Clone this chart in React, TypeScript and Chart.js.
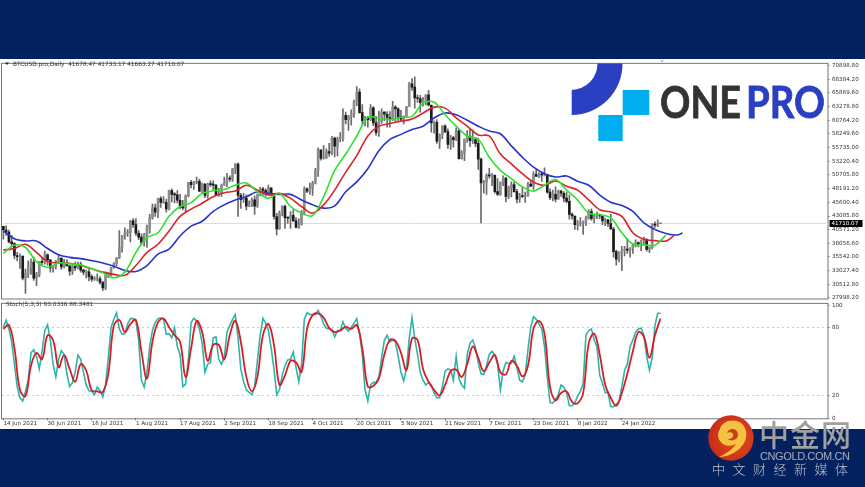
import React, { useEffect, useRef } from "react";
import { Chart, registerables } from "chart.js";

Chart.register(...registerables);

const closes = [
  40500, 40100, 38300, 38000, 35800, 35600, 35700, 31600, 32500, 33700, 34600, 31600, 32200, 34700, 34500, 35900, 35000,
  33500, 33800, 34700, 35300, 33700, 34200, 33900, 32900, 33800, 33500, 34200, 33100, 32700, 32800, 31900, 31400, 31500, 31500, 30800, 29800, 32100, 32300, 33600, 34300, 35400, 37300, 39500, 40000, 40000, 42200, 41500,
  39900, 39200, 38200, 39700, 40900, 42800, 44600, 43800, 46300, 45600, 45600, 44400, 47800, 47100, 47000, 46000, 44700, 44600, 46800, 49300, 48900, 49300, 49500, 47700, 49000, 46900, 49000, 48900, 48800, 47000, 47200,
  48800, 49300, 50000, 49900, 51800, 52700, 46900, 46100, 46400, 44900, 45200, 46100, 44900, 47100, 48100, 47800, 47300, 48300, 47300, 43000, 40700, 43600, 44900, 42800, 42700, 43200, 42200, 41000, 41500, 43800,
  48100, 47700, 48200, 49200, 51500, 55300, 53800, 53900, 55000, 54700, 57500, 56000, 57400, 57400, 61700, 60900, 61500, 62000, 64300, 66000, 62200, 60700, 61300, 60900, 63100, 60300, 58500, 60600, 62300, 61900, 61300,
  60900, 63200, 62900, 61400, 61000, 61500, 63300, 67500, 66900, 64900, 64800, 64100, 64400, 65500, 63600, 60300, 60400, 56900, 58100, 59700, 58700, 56300, 57600, 57200, 58900, 53700, 54700, 57300, 57800, 57000,
  57200, 56500, 53600, 49200, 49400, 50600, 50500, 50600, 47600, 47100, 49300, 50100, 46700, 48300, 48900, 47600, 46200, 46800, 46700, 46900, 49000, 48600, 50800, 50400, 50800, 50700, 50700, 47500, 46500, 47100, 46200,
  47700, 47300, 46400, 45800, 43400, 43100, 41500, 41700, 41800, 41800, 42700, 43900, 42600, 43100, 43200, 43100, 42200, 42400, 41700, 40700, 36500, 35100, 36300, 36700, 36900, 36800, 37200, 37700, 38200, 37900, 38500,
  38700, 36900, 37300, 41600, 41400, 41678, 41710.07,
];
const highs = [
  41000, 41300, 40500, 39500, 38200, 36400, 36100, 35700, 33300, 34800, 35200, 35500, 32700, 34700, 35300, 36600, 36100,
  35000, 33900, 34900, 35900, 35300, 35100, 35000, 33900, 34100, 34600, 34600, 34600, 33300, 33100, 33200, 32200, 31900, 32400, 31900, 31000, 32800, 32600, 33600, 34500, 35400, 40400, 39500, 40900, 40600, 42300, 42600,
  42600, 40400, 39800, 39900, 41400, 43400, 45300, 45300, 46400, 46700, 46700, 46200, 47900, 48100, 47400, 47800, 47100, 46000, 47000, 49300, 49700, 49500, 50300, 49900, 49200, 49100, 49200, 49600, 49600, 48900, 48200,
  49000, 50300, 51000, 50500, 51900, 52800, 52900, 47300, 47300, 47000, 45900, 46400, 46800, 47200, 48400, 48400, 48100, 48800, 48300, 47300, 43600, 44000, 45000, 45100, 42900, 43900, 44300, 42800, 42600, 44100,
  48500, 48300, 49200, 49500, 51900, 55700, 55300, 56100, 55500, 56500, 57800, 57700, 57700, 58500, 62900, 62300, 61700, 62700, 64500, 67000, 66600, 63700, 61500, 61500, 63700, 63300, 61500, 62500, 62900, 62400, 62400,
  62400, 64300, 63500, 63100, 62600, 61600, 63300, 67800, 68500, 68800, 65500, 65400, 65000, 65500, 66300, 63500, 60700, 60900, 58300, 59800, 60000, 59200, 58000, 57800, 59400, 59100, 55200, 57300, 58900, 59100,
  59000, 57300, 57500, 53800, 49700, 50900, 51900, 51000, 50700, 50000, 49400, 50500, 50200, 48600, 49400, 49300, 48000, 47300, 48300, 47500, 49300, 49500, 51300, 51800, 51100, 51200, 52000, 50700, 48100, 47900, 48500,
  47900, 47900, 47600, 47500, 47000, 43700, 43100, 42300, 42800, 42200, 43100, 44300, 44400, 43400, 43800, 43500, 43200, 42700, 42500, 43400, 41000, 36800, 36500, 37500, 37500, 38900, 37200, 38000, 38700, 38300, 38700,
  39200, 38900, 37400, 41700, 42000, 42400, 41733.17,
];
const lows = [
  38800, 39500, 38100, 37400, 35200, 34800, 33400, 31300, 28800, 31700, 32300, 31200, 30200, 31900, 33900, 34200, 34000,
  32700, 32700, 33300, 34500, 33200, 33500, 33800, 32100, 32300, 33000, 33300, 32700, 32200, 31600, 31100, 31000, 31200, 31100, 30500, 29300, 29500, 31700, 32000, 33400, 33900, 35200, 36400, 38800, 39300, 38300, 41000,
  39500, 38700, 37700, 37500, 37300, 39900, 42500, 43000, 42800, 44700, 45400, 43800, 44200, 45700, 45500, 45500, 44400, 44200, 43900, 46600, 48300, 48000, 49000, 47600, 47200, 46500, 46400, 48500, 48000, 46900, 46700,
  46700, 48700, 48500, 49500, 49500, 50900, 43000, 44500, 45600, 44200, 44800, 44800, 43400, 44700, 46800, 47000, 46800, 47100, 46900, 42500, 39600, 40600, 43100, 40800, 41700, 40800, 42100, 40900, 40800, 41400,
  43300, 47400, 47100, 46900, 49000, 50400, 53400, 53600, 53700, 54100, 54400, 54000, 54200, 56800, 56900, 60100, 58900, 59900, 61300, 63500, 62100, 60000, 59700, 59500, 60700, 59800, 58000, 57800, 60200, 60700, 59500,
  59500, 60700, 60400, 60700, 60700, 60100, 61400, 63300, 66300, 63000, 64100, 62300, 63400, 63600, 63400, 58600, 58400, 56500, 55600, 57400, 58500, 55600, 55400, 55800, 57000, 53600, 53600, 53300, 56700, 55900,
  56500, 55900, 51700, 41800, 47300, 47100, 50100, 48700, 47300, 46900, 46900, 48700, 45700, 46300, 46600, 47500, 45500, 45600, 46500, 45600, 46700, 48500, 48000, 50400, 50200, 49500, 50500, 47300, 46100, 45900, 45700,
  46200, 46700, 45700, 45500, 42500, 42500, 40600, 40500, 41200, 39700, 41300, 42500, 42300, 41800, 42600, 42600, 41500, 41300, 41100, 40600, 35500, 34000, 34600, 33000, 35700, 36200, 35500, 36200, 37400, 37400, 36700,
  38000, 36600, 36300, 37000, 41000, 41100, 41663.27,
];
const firstOpen = 41200;
const lastPrice = 41710.07;

const lineDays = [0,4,8,12,16,20,24,28,32,36,40,44,48,52,56,60,64,68,72,76,80,84,88,92,96,100,104,108,112,116,120,124,128,132,136,140,144,148,152,156,160,164,168,172,176,180,184,188,192,196,200,204,208,212,216,220,224,228,232,236,240];
const greenLine = [36181,37696,37272,34666,33636,34423,34242,34060,33333,32606,31697,32727,36363,39090,39999,43029,44847,45574,47271,47756,47998,48786,49210,47574,46362,47271,44847,43635,43150,46665,51513,54543,57876,61330,61209,60906,61330,61512,63936,64118,61815,59694,57876,57270,53937,51513,49998,48483,47695,48786,49816,47877,46059,43635,43332,42726,39999,37878,37757,37696,39575];
const redLine = [36787,37090,37878,36363,34666,34423,34363,33939,33333,32727,32303,32121,33939,36363,37878,40302,43029,44362,45453,46665,47392,47695,48786,47877,46968,47271,46362,44847,43635,45150,47877,51210,54240,57876,59694,60179,60603,61027,62118,63209,63027,61209,59694,58058,57876,54543,52725,50907,49392,48786,49574,48604,47877,46059,44241,43817,43029,39999,38787,38545,38484];
const redTailDay = 243;
const redTailValue = 39514;
const blueLine = [40302,38908,38484,38484,37090,35939,35454,35212,34848,34423,33818,33030,32848,33939,36060,36969,39393,41211,42120,43938,45150,46059,46665,47574,47271,47089,47089,46059,45150,44544,44968,47574,49392,51816,55149,57270,58179,59088,59694,61209,62118,61815,60785,59694,58785,58300,56058,53937,52119,50907,50301,50483,49513,48786,46968,45635,45029,43938,41817,40605,39878];
const blueTailDays = [244, 246];
const blueTailValues = [39575, 39938];

const stochK = [
  80.5,86.8,79.1,67.7,47.8,27.9,18,15.1,23.7,33.6,57.8,60.6,54.9,43.6,59.2,77.7,82.8,69.2,47.8,36.5,
  52.1,59.8,56.4,39.3,27.9,31.4,40.7,55.8,52.1,40.7,29.4,24.2,23.7,20.8,27.4,24.5,18.8,29.4,53.5,80.5,
  87.6,93.4,79.1,74.3,74.9,83.4,88.2,88.2,86.2,69.2,33.6,27.4,40.7,63.5,77.7,84.8,88.2,88.8,88.2,74.3,
  74.9,71.2,80,63.5,56.4,27.9,30.2,52.1,84.8,88.5,86.2,79.1,66.3,40.7,47.8,49.3,71.2,72,52.1,47.8,
  53.5,76.3,82,87.6,91.9,70.6,43.6,32.2,25.1,22.8,20.8,27.9,50.7,73.4,88.5,84.2,77.7,62.1,43.6,20.8,
  25.1,37.9,46.4,51.5,52.1,58.6,45,32.2,47.8,87.6,93.4,91.9,91.9,91.9,95.6,90.5,83.4,79.7,79.1,78.5,
  72,77.7,77.7,85.4,79.7,77.1,80.5,84.2,88.2,74.9,56.4,25.1,15.1,29.4,31.6,31.4,36.5,53.5,69.2,73.4,
  67.7,69.2,67.7,54.9,40.7,33,43.6,70.6,89.1,70.6,56.4,40.7,33.6,29.4,31.4,29.4,22.3,18,18,27.9,
  41.6,43.6,42.7,33.6,54.9,35,29.4,26.5,56.4,66.3,69.2,62.1,49.3,39.3,38.7,46.4,56.4,59.2,55.8,47.8,
  25.1,41.6,49.3,48.4,48.4,54.9,45,33.6,32.2,37.9,60.6,80.5,89.9,87.6,83.4,79.1,63.5,36.5,13.7,13.2,
  16.6,20.8,29.4,27.4,22.3,10.9,10.9,13.7,19.4,23.7,30.8,73.4,77.7,79.1,69.2,63.5,37.9,30.8,22.3,22.8,
  10,10,12.3,15.1,27.9,42.2,47.8,63.5,69.2,76.3,79.1,79.7,73.4,54.9,42.7,53.5,82,93,93.03,
];
const stochDEveryOtherDay = [
  79.1,82.5,62,25.1,19.4,46.4,57.8,52.1,73.4,69.2,45,55.8,43.6,32.2,47.8,42.2,24.5,23.7,23.1,39.3,
  82,87,76.3,83.4,87,59.2,35,67.7,84.8,88.2,80.5,73.4,67.7,36.5,62,86.2,76.3,50.7,64.9,64.9,
  52.1,73.4,86.2,67.7,36.5,23.7,36.5,73.4,83.4,64.9,29.4,37.9,50.7,49.3,40.7,79.1,91.3,92.8,89.1,80,
  76.3,77.7,80.8,79.1,82.5,62,27.9,28.5,35,56.4,69.2,68.6,57.8,42.7,70.6,69.2,43.6,32.2,25.1,20,
  29.4,41.6,43,36.5,47.8,63.5,53.5,41.6,49.3,55.8,40.7,38.7,50.7,46.4,37,46.4,79.1,86.2,74.9,27.9,
  15.7,22.3,23.7,14.3,13.2,22.3,66.3,74.9,56.4,29.4,18,10.9,22.3,39.3,59.2,76.3,72,53.5,73.4,88.35,
];

const priceTicks = [70898.8,68384.2,65869.6,63278.8,60764.2,58249.6,55735,53220.4,50705.8,48191.2,45600.4,43085.8,40571.2,38056.6,35542,33027.4,30512.8,27998.2];
const stochTicks = [100, 80, 20, 0];
const dateTicks = ["14 Jun 2021","30 Jun 2021","16 Jul 2021","1 Aug 2021","17 Aug 2021","2 Sep 2021","18 Sep 2021","4 Oct 2021","20 Oct 2021","5 Nov 2021","21 Nov 2021","7 Dec 2021","23 Dec 2021","8 Jan 2022","24 Jan 2022"];

const months = ["Jan","Feb","Mar","Apr","May","Jun","Jul","Aug","Sep","Oct","Nov","Dec"];
const labels: string[] = Array.from({ length: 299 }, (_, i) => {
  const d = new Date(Date.UTC(2021, 5, 14 + i));
  return `${d.getUTCDate()} ${months[d.getUTCMonth()]} ${d.getUTCFullYear()}`;
});

const FONT = { family: "'DejaVu Sans'", size: 5.6 };
const AXIS_W = 37.5;
const points = (days: number[], vals: number[]) => days.map((d, k) => ({ x: labels[d], y: vals[k] }));

const framePlugin = {
  id: "frame",
  afterDraw(chart: any) {
    const { ctx, chartArea: a } = chart;
    ctx.save();
    ctx.strokeStyle = "#777";
    ctx.lineWidth = 1;
    ctx.strokeRect(a.left - 0.5, a.top - 0.5, a.right - a.left + 1, a.bottom - a.top + 1);
    ctx.restore();
  },
};
const priceTagPlugin = {
  id: "priceTag",
  afterDraw(chart: any) {
    const { ctx, chartArea: a, scales } = chart;
    const y = scales.y.getPixelForValue(lastPrice);
    ctx.save();
    ctx.fillStyle = "#000";
    ctx.fillRect(a.right + 2, y - 3.5, 33, 7);
    ctx.fillStyle = "#fff";
    ctx.font = `${FONT.size}px ${FONT.family}`;
    ctx.textBaseline = "middle";
    ctx.fillText(lastPrice.toFixed(2), a.right + 4, y);
    ctx.restore();
  },
};

function makePriceChart(el: HTMLCanvasElement) {
  const opens = closes.map((_, i) => (i === 0 ? firstOpen : closes[i - 1]));
  const bodyColor = closes.map((c, i) => (c >= opens[i] ? "#8c8c8c" : "#1c1c1c"));
  const lineStyle = { type: "line" as const, pointRadius: 0, borderWidth: 1.6, tension: 0.35, fill: false, order: 0 };
  return new Chart(el, {
    type: "bar",
    data: {
      labels,
      datasets: [
        { ...lineStyle, data: points(lineDays, greenLine), borderColor: "#2fe02f" },
        { ...lineStyle, data: points([...lineDays, redTailDay], [...redLine, redTailValue]), borderColor: "#d8242c" },
        { ...lineStyle, data: points([...lineDays, ...blueTailDays], [...blueLine, ...blueTailValues]), borderColor: "#2634c8" },
        { data: closes.map((c, i) => [opens[i], c]), backgroundColor: bodyColor, barThickness: 2, grouped: false, minBarLength: 1, order: 2 },
        { data: lows.map((l, i) => [l, highs[i]]), backgroundColor: "#6a6a6a", barThickness: 1, grouped: false, order: 3 },
        { type: "line" as const, data: [{ x: labels[0], y: lastPrice }, { x: labels[298], y: lastPrice }], borderColor: "#dcdcdc", borderWidth: 1, pointRadius: 0, order: 4 },
      ] as any,
    },
    options: {
      animation: false,
      responsive: false,
      events: [],
      layout: { padding: { left: 2, top: 2, bottom: 7.5, right: 0 } },
      plugins: { legend: { display: false }, tooltip: { enabled: false } },
      scales: {
        x: { display: false, offset: true },
        y: {
          position: "right",
          min: 27849,
          max: 71208,
          afterBuildTicks(s: any) { s.ticks = priceTicks.map((value) => ({ value })); },
          afterFit(s: any) { s.width = AXIS_W; },
          grid: { drawOnChartArea: false, tickLength: 2, tickColor: "#777" },
          border: { display: false },
          ticks: { font: FONT, color: "#333", padding: 2.5, crossAlign: "near", autoSkip: false, callback: (v: any) => Number(v).toFixed(2) },
        },
      },
    } as any,
    plugins: [framePlugin, priceTagPlugin] as any,
  });
}

function makeStochChart(el: HTMLCanvasElement) {
  const evenDays = stochDEveryOtherDay.map((_, k) => k * 2);
  return new Chart(el, {
    type: "line",
    data: {
      labels,
      datasets: [
        { data: points(evenDays, stochDEveryOtherDay), borderColor: "#dc1c24", borderWidth: 1.8, pointRadius: 0, tension: 0.4, order: 0 },
        { data: stochK.map((v, i) => ({ x: labels[i], y: v })), borderColor: "#2bb5aa", borderWidth: 1.6, pointRadius: 0, tension: 0, order: 1 },
      ],
    },
    options: {
      animation: false,
      responsive: false,
      events: [],
      layout: { padding: { left: 2, top: 1, bottom: 0, right: 0 } },
      plugins: { legend: { display: false }, tooltip: { enabled: false } },
      scales: {
        x: {
          offset: true,
          afterBuildTicks(s: any) { s.ticks = dateTicks.map((t) => ({ value: labels.indexOf(t) })); },
          afterFit(s: any) { s.height = 11.7; },
          grid: { drawOnChartArea: false, tickLength: 2, tickColor: "#777" },
          border: { display: false },
          ticks: { font: FONT, color: "#333", padding: 0, align: "start", autoSkip: false, maxRotation: 0, callback(this: any, v: any) { return labels[v]; } },
        },
        y: {
          position: "right",
          min: -0.2,
          max: 101.3,
          afterBuildTicks(s: any) { s.ticks = stochTicks.map((value) => ({ value })); },
          afterFit(s: any) { s.width = AXIS_W; },
          grid: { color: (c: any) => (c.tick && (c.tick.value === 20 || c.tick.value === 80) ? "#c8c8c8" : "transparent"), tickLength: 2, tickColor: "#777" },
          border: { display: false, dash: [2, 3] },
          ticks: { font: FONT, color: "#333", padding: 2.5, crossAlign: "near", autoSkip: false },
        },
      },
    } as any,
    plugins: [framePlugin] as any,
  });
}

export default function App() {
  const priceRef = useRef<HTMLCanvasElement>(null);
  const stochRef = useRef<HTMLCanvasElement>(null);
  useEffect(() => {
    const a = makePriceChart(priceRef.current!);
    const b = makeStochChart(stochRef.current!);
    return () => { a.destroy(); b.destroy(); };
  }, []);
  const smallText: React.CSSProperties = { position: "absolute", font: "5.8px 'DejaVu Sans'", color: "#333", whiteSpace: "pre" };
  return (
    <div style={{ position: "fixed", left: 0, top: 0, width: 865, height: 487, background: "#02215e", overflow: "hidden" }}>
      <div style={{ position: "absolute", left: 0, top: 0, width: 865, height: 487, filter: "blur(0.55px)" }}>
        <div style={{ position: "absolute", left: 0, top: 59, width: 865, height: 370, background: "#fff" }} />
        <canvas ref={priceRef} width={865} height={248} style={{ position: "absolute", left: 0, top: 58, width: 865, height: 248 }} />
        <canvas ref={stochRef} width={865} height={132} style={{ position: "absolute", left: 0, top: 298, width: 865, height: 132 }} />
        <div style={{ ...smallText, left: 13, top: 60.5 }}>BTCUSD.pro,Daily  41678.47 41733.17 41663.27 41710.07</div>
        <div style={{ ...smallText, left: 6, top: 300.5 }}>Stoch(5,3,3) 93.0336 88.3481</div>
        <svg width={865} height={487} style={{ position: "absolute", left: 0, top: 0 }}>
          <polygon points="5,62.5 9,62.5 7,65" fill="#222" />
          <polygon points="660,60.5 664,60.5 662,62" fill="#999" />
          <path d="M597.5 63.5 H622.5 A51 51 0 0 1 571.7 115 V90 A26.5 26.5 0 0 0 597.5 63.5 Z" fill="#2b3fc2" />
          <rect x={622.7} y={90} width={26.6} height={25} fill="#00aeef" />
          <rect x={598.3} y={115} width={24.4} height={26} fill="#00aeef" />
          <text x={660} y={118} textLength={81} lengthAdjust="spacingAndGlyphs" fontFamily="Lato" fontWeight={700} fontSize={43} fill="#333" stroke="#333" strokeWidth={0.8}>ONE</text>
          <text x={746} y={118} textLength={79} lengthAdjust="spacingAndGlyphs" fontFamily="Lato" fontWeight={700} fontSize={43} fill="#2b3fc2" stroke="#2b3fc2" strokeWidth={0.8}>PRO</text>
          <defs>
            <radialGradient id="wm" cx="0.6" cy="0.5" r="0.6">
              <stop offset="0" stopColor="#e8501a" />
              <stop offset="1" stopColor="#c42c1c" />
            </radialGradient>
          </defs>
          <circle cx={731} cy={438} r={22.7} fill="url(#wm)" />
          <path d="M720 429 C722 421 733 418 741 423 C748 428 748 440 741 447 C736 453 727 457 719 457 C727 453 733 449 736 444 C730 447 723 446 720 441 C717 437 718 432 720 429 Z" fill="#f6c243" />
          <path d="M727 433 C729 427 738 428 738 435 C738 440 731 442 728 439 C731 439 734 437 733 434 C732 432 729 432 727 433 Z" fill="#c9401c" />
          <text x={759} y={446} fontFamily="'Noto Sans CJK SC'" fontWeight={500} fontSize={30} fill="#a0a0a0" textLength={92}>中金网</text>
          <text x={760} y={459.5} fontFamily="'Liberation Sans'" fontSize={11} fill="#a9aebb" textLength={90}>CNGOLD.COM.CN</text>
          <text x={712} y={473.5} fontFamily="'Noto Sans CJK SC'" fontWeight={300} fontSize={13} fill="#bfc3ce" textLength={136}>中文财经新媒体</text>
        </svg>
      </div>
    </div>
  );
}
